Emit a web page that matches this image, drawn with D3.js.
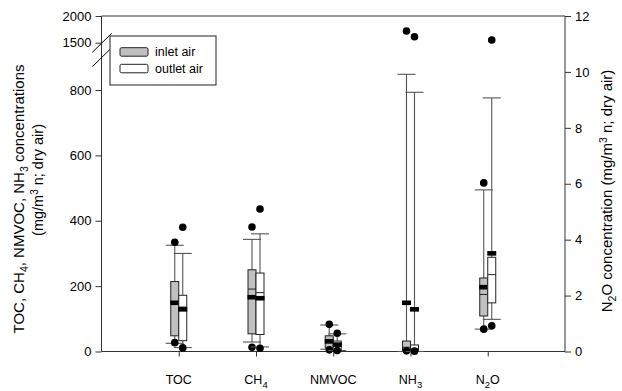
<!DOCTYPE html>
<html>
<head>
<meta charset="utf-8">
<script src="https://cdn.jsdelivr.net/npm/d3@7"></script>
<style>
  body { margin: 0; background: #fff; }
  svg text { font-family: "Liberation Sans", Arial, sans-serif; fill: #000; }
</style>
</head>
<body>
<div id="chart"></div>
<script>
// categories (N2O is read on the right axis)
const categories = ["TOC", "CH4", "NMVOC", "NH3", "N2O"];
const rightAxisCats = ["N2O"];

// inlet air box stats
const inletLow    = [25, 29, 7, 0, 0.80];
const inletQ1     = [48, 54, 11, 3, 1.27];
const inletMedian = [152, 191, 35, 13, 2.04];
const inletQ3     = [214, 250, 48, 32, 2.63];
const inletHigh   = [325, 343, 81, 848, 5.78];
const inletMean   = [149, 166, 31, 149, 2.30];
const inletOutliers = [[334, 27], [381, 13], [83, 5], [1719, 2], [6.03, 0.80]];

// outlet air box stats
const outletLow    = [12, 14, 3, 0, 1.15];
const outletQ1     = [33, 52, 3, 3, 1.74];
const outletMedian = [136, 180, 25, 8, 2.75];
const outletQ3     = [172, 240, 32, 20, 3.37];
const outletHigh   = [300, 360, 54, 793, 9.07];
const outletMean   = [129, 163, 21, 129, 3.51];
const outletOutliers = [[380, 11], [436, 10], [56, 3], [1612, 1], [11.14, 0.92]];

// tick labels
const leftTicksLow = [0, 200, 400, 600, 800];
const leftTicksHigh = [1500, 2000];
const rightTicks = [0, 2, 4, 6, 8, 10, 12];

const W = 622, H = 391;
const pLeft = 101.5, pRight = 565, pTop = 16, pBottom = 351.5;

const svg = d3.select("#chart").append("svg")
  .attr("width", W).attr("height", H);

// scales
let x = d3.scalePoint().domain(categories).range([pLeft, pRight]).padding(1);
let yLow = d3.scaleLinear().domain([0, 800]).range([pBottom, 90]);
let yHigh = d3.scaleLinear().domain([1000, 2000]).range([69.4, pTop]);
let yRight = d3.scaleLinear().domain([0, 12]).range([pBottom, pTop]);
function yLeft(v) { return v <= 950 ? yLow(v) : yHigh(v); }

// build series from the arrays
function makeSeries(name, lo, q1, med, q3, hi, mean, outl, fill, dx) {
  return categories.map((c, i) => ({
    cat: c, series: name, lo: lo[i], q1: q1[i], med: med[i], q3: q3[i],
    hi: hi[i], mean: mean[i], outliers: outl[i], fill: fill, dx: dx,
    y: rightAxisCats.includes(c) ? yRight : yLeft
  }));
}
const boxes = makeSeries("inlet air", inletLow, inletQ1, inletMedian, inletQ3, inletHigh, inletMean, inletOutliers, "#c0c0c0", -4)
  .concat(makeSeries("outlet air", outletLow, outletQ1, outletMedian, outletQ3, outletHigh, outletMean, outletOutliers, "#ffffff", 4));

const boxW = 8, capW = 18;
const fmt = d3.format("d");

// frame lines
svg.append("line").attr("x1", pLeft).attr("x2", pRight).attr("y1", pTop).attr("y2", pTop)
  .attr("stroke", "#333").attr("stroke-width", 1);
svg.append("line").attr("x1", pLeft).attr("x2", pLeft).attr("y1", pTop).attr("y2", pBottom)
  .attr("stroke", "#333").attr("stroke-width", 1);

// left axis (two pieces)
let axL1 = svg.append("g").attr("transform", `translate(${pLeft},0)`)
  .call(d3.axisLeft(yLow).tickValues(leftTicksLow).tickFormat(fmt).tickSize(6).tickPadding(4));
let axL2 = svg.append("g").attr("transform", `translate(${pLeft},0)`)
  .call(d3.axisLeft(yHigh).tickValues(leftTicksHigh).tickFormat(fmt).tickSize(6).tickPadding(4));
// right axis
let axR = svg.append("g").attr("transform", `translate(${pRight},0)`)
  .call(d3.axisRight(yRight).tickValues(rightTicks).tickFormat(fmt).tickSize(6).tickPadding(4));
// bottom axis
let axB = svg.append("g").attr("transform", `translate(0,${pBottom})`)
  .call(d3.axisBottom(x).tickSize(5).tickFormat(""));

[axL1, axL2, axR, axB].forEach(a => {
  a.selectAll("text").attr("font-size", "13px").attr("font-family", "Liberation Sans, Arial, sans-serif");
  a.selectAll("line").attr("stroke", "#333");
  a.select(".domain").remove();
});
svg.append("line").attr("x1", pRight).attr("x2", pRight).attr("y1", pTop).attr("y2", pBottom)
  .attr("stroke", "#333");
svg.append("line").attr("x1", pLeft).attr("x2", pRight).attr("y1", pBottom).attr("y2", pBottom)
  .attr("stroke", "#333");

// axis break marks
[0, 14.4].forEach(off => {
  svg.append("line")
    .attr("x1", 92.3).attr("y1", 52.3 + off).attr("x2", 111.7).attr("y2", 33.3 + off)
    .attr("stroke", "#000").attr("stroke-width", 1);
});

// category labels with subscripts
const labelParts = {
  "TOC": [["TOC", false]],
  "CH4": [["CH", false], ["4", true]],
  "NMVOC": [["NMVOC", false]],
  "NH3": [["NH", false], ["3", true]],
  "N2O": [["N", false], ["2", true], ["O", false]]
};
categories.forEach(c => {
  let t = svg.append("text").attr("x", x(c)).attr("y", 384)
    .attr("text-anchor", "middle").attr("font-size", "12.5px");
  labelParts[c].forEach((p, k) => {
    let s = t.append("tspan").text(p[0]);
    if (p[1]) s.attr("font-size", "9.5px").attr("dy", 4);
    else if (k > 0) s.attr("dy", -4);
  });
});

// boxes
let g = svg.selectAll("g.box").data(boxes).enter().append("g").attr("class", "box");

g.append("line") // whisker
  .attr("x1", d => x(d.cat) + d.dx).attr("x2", d => x(d.cat) + d.dx)
  .attr("y1", d => d.y(d.lo)).attr("y2", d => d.y(d.hi))
  .attr("stroke", "#555").attr("stroke-width", 1.1);

g.append("line") // top cap
  .attr("x1", d => x(d.cat) + d.dx - capW / 2).attr("x2", d => x(d.cat) + d.dx + capW / 2)
  .attr("y1", d => d.y(d.hi)).attr("y2", d => d.y(d.hi))
  .attr("stroke", "#555").attr("stroke-width", 1.1);

g.append("line") // bottom cap
  .attr("x1", d => x(d.cat) + d.dx - capW / 2).attr("x2", d => x(d.cat) + d.dx + capW / 2)
  .attr("y1", d => d.y(d.lo)).attr("y2", d => d.y(d.lo))
  .attr("stroke", "#555").attr("stroke-width", 1.1);

g.append("rect")
  .attr("x", d => x(d.cat) + d.dx - boxW / 2).attr("width", boxW)
  .attr("y", d => d.y(d.q3)).attr("height", d => d.y(d.q1) - d.y(d.q3))
  .attr("fill", d => d.fill).attr("stroke", "#222").attr("stroke-width", 1);

g.append("line") // median
  .attr("x1", d => x(d.cat) + d.dx - boxW / 2).attr("x2", d => x(d.cat) + d.dx + boxW / 2)
  .attr("y1", d => d.y(d.med)).attr("y2", d => d.y(d.med))
  .attr("stroke", "#222").attr("stroke-width", 1);

g.append("rect") // mean
  .attr("x", d => x(d.cat) + d.dx - boxW / 2 - 0.5).attr("width", boxW + 1)
  .attr("y", d => d.y(d.mean) - 2.3).attr("height", 4.6)
  .attr("fill", "#000");

g.selectAll("circle").data(d => d.outliers.map(v => ({ v: v, d: d })))
  .enter().append("circle")
  .attr("cx", o => x(o.d.cat) + o.d.dx).attr("cy", o => o.d.y(o.v))
  .attr("r", 3.8).attr("fill", "#000");

// legend
let lg = svg.append("g");
lg.append("rect").attr("x", 110).attr("y", 36).attr("width", 106).attr("height", 49)
  .attr("fill", "#fff").attr("stroke", "#222");
[["inlet air", "#c0c0c0", 47.7], ["outlet air", "#ffffff", 64.3]].forEach(l => {
  lg.append("rect").attr("x", 120).attr("y", l[2]).attr("width", 28).attr("height", 8.5)
    .attr("rx", 1.5).attr("fill", l[1]).attr("stroke", "#222");
  lg.append("text").attr("x", 155).attr("y", l[2] + 8.5).attr("font-size", "12.5px").text(l[0]);
});

// left axis title
let lt1 = svg.append("text").attr("transform", "translate(24,199) rotate(-90)")
  .attr("text-anchor", "middle").attr("font-size", "15px");
lt1.append("tspan").text("TOC, CH");
lt1.append("tspan").text("4").attr("font-size", "10.5px").attr("dy", 4);
lt1.append("tspan").text(", NMVOC, NH").attr("dy", -4);
lt1.append("tspan").text("3").attr("font-size", "10.5px").attr("dy", 4);
lt1.append("tspan").text(" concentrations").attr("dy", -4);

let lt2 = svg.append("text").attr("transform", "translate(43,180) rotate(-90)")
  .attr("text-anchor", "middle").attr("font-size", "14.5px");
lt2.append("tspan").text("(mg/m");
lt2.append("tspan").text("3").attr("font-size", "10px").attr("dy", -5);
lt2.append("tspan").text(" n; dry air)").attr("dy", 5);

// right axis title
let rt = svg.append("text").attr("transform", "translate(612,191) rotate(-90)")
  .attr("text-anchor", "middle").attr("font-size", "15px");
rt.append("tspan").text("N");
rt.append("tspan").text("2").attr("font-size", "10.5px").attr("dy", 4);
rt.append("tspan").text("O concentration (mg/m").attr("dy", -4);
rt.append("tspan").text("3").attr("font-size", "10.5px").attr("dy", -5);
rt.append("tspan").text(" n; dry air)").attr("dy", 5);
</script>
</body>
</html>
